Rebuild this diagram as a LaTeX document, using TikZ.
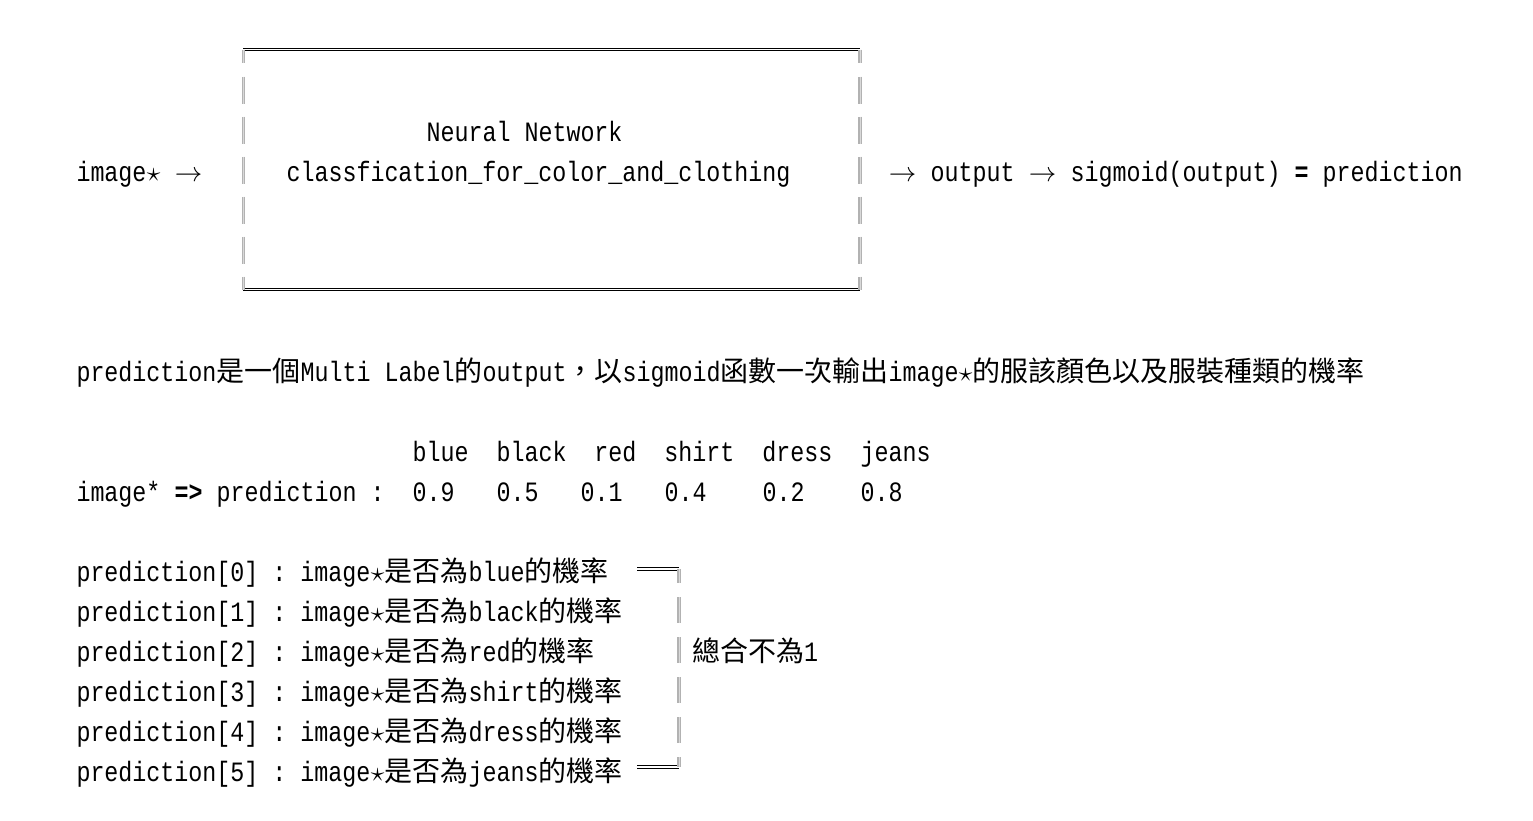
\RequirePackage{fix-cm}
\documentclass[tikz,border=0pt]{standalone}
\usepackage{graphicx}
\usepackage{fontspec}
\setmainfont{Liberation Mono}[FakeStretch=0.8333]
\newfontfamily\cjk{Noto Sans CJK TC}
\newcommand\st{\makebox[14pt][c]{\resizebox{13.5pt}{!}{$\star$}}}
\newcommand\arr{\makebox[28pt][c]{\resizebox{27.5pt}{!}{$\rightarrow$}}}
\newcommand\zh[1]{{\cjk #1}}
\begin{document}
\begin{tikzpicture}[x=1pt,y=-1pt,
  txt/.style={anchor=base west,inner sep=0pt,outer sep=0pt,font=\fontsize{28}{34}\selectfont},
  hline/.style={draw=black,double=white,line width=1pt,double distance=1.4pt},
  vline/.style={draw=gray!60,double=gray!30,line width=1.1pt,double distance=1pt}]
\fill[white] (0,0) rectangle (1533,820);
\useasboundingbox (0,0) rectangle (1533,820);

% network box
\draw[hline] (243.3,49.5) -- (860,49.5);
\draw[hline] (243.3,289.5) -- (860,289.5);
\foreach \x in {243.3,860}{
  \draw[vline] (\x,49.5) -- (\x,63);
  \foreach \c in {90,130,170,210,250}{
    \draw[vline] (\x,\c-13.5) -- (\x,\c+13.5);
  }
  \draw[vline] (\x,276.5) -- (\x,289.5);
}

\node[txt] (nn) at (426.5,141) {Neural Network};
\node[txt] (img) at (76.5,181) {image\st~\arr};
\node[txt] (cls) at (286.5,181) {classfication\_for\_color\_and\_clothing};
\node[txt] (out) at (888.5,181) {\arr~output~\arr~sigmoid(output)~\textbf{=}~prediction};

\node[txt] (desc) at (76.5,381) {prediction\zh{是一個}Multi~Label\zh{的}output\zh{，以}sigmoid\zh{函數一次輸出}image\st\zh{的服該顏色以及服裝種類的機率}};

\node[txt] (hdr) at (412.5,461) {blue~~black~~red~~shirt~~dress~~jeans};
\node[txt] (vals) at (76.5,501) {image*~\textbf{=>}~prediction~:~~0.9~~~0.5~~~0.1~~~0.4~~~~0.2~~~~0.8};

\node[txt] (p0) at (76.5,581) {prediction[0]~:~image\st\zh{是否為}blue\zh{的機率}};
\node[txt] (p1) at (76.5,621) {prediction[1]~:~image\st\zh{是否為}black\zh{的機率}};
\node[txt] (p2) at (76.5,661) {prediction[2]~:~image\st\zh{是否為}red\zh{的機率}};
\node[txt] (p3) at (76.5,701) {prediction[3]~:~image\st\zh{是否為}shirt\zh{的機率}};
\node[txt] (p4) at (76.5,741) {prediction[4]~:~image\st\zh{是否為}dress\zh{的機率}};
\node[txt] (p5) at (76.5,781) {prediction[5]~:~image\st\zh{是否為}jeans\zh{的機率}};

% bracket
\draw[hline] (637,569) -- (679,569);
\draw[hline] (637,767) -- (679,767);
\draw[vline] (679,569) -- (679,583);
\foreach \c in {610,650,690,730}{
  \draw[vline] (679,\c-13) -- (679,\c+13);
}
\draw[vline] (679,757) -- (679,767);
\node[txt] (sum) at (692,661) {\zh{總合不為}1};
\end{tikzpicture}
\end{document}
